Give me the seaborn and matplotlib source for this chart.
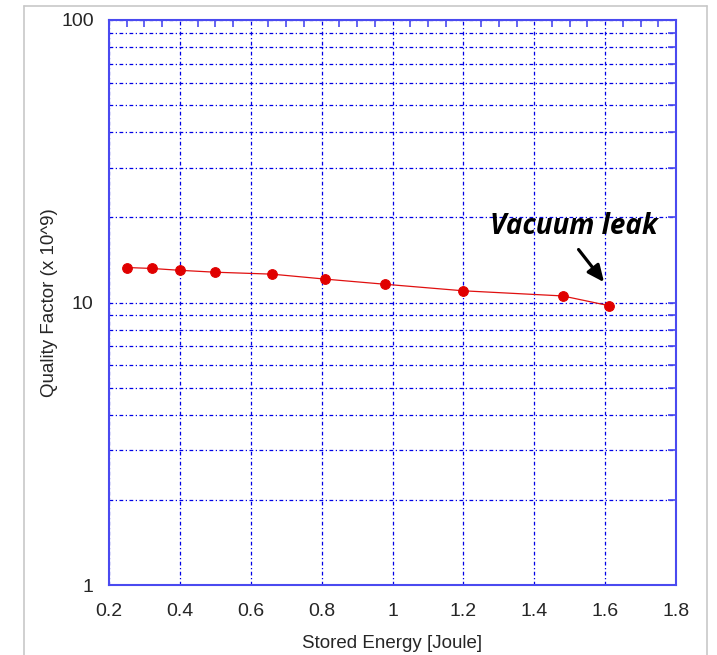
import matplotlib
matplotlib.use("Agg")
import matplotlib.pyplot as plt
from matplotlib.lines import Line2D
from matplotlib.ticker import LogLocator, MultipleLocator, FixedLocator, NullFormatter, FixedFormatter
import seaborn as sns
import pandas as pd

stored_energy = [0.25, 0.32, 0.40, 0.50, 0.66, 0.81, 0.98, 1.20, 1.48, 1.61]
quality_factor = [13.3, 13.2, 13.0, 12.8, 12.6, 12.1, 11.6, 11.0, 10.55, 9.75]
x_ticks = [0.2, 0.4, 0.6, 0.8, 1.0, 1.2, 1.4, 1.6, 1.8]
x_tick_labels = ["0.2", "0.4", "0.6", "0.8", "1", "1.2", "1.4", "1.6", "1.8"]
y_ticks = [1, 10, 100]
y_tick_labels = ["1", "10", "100"]
annotation_text = "Vacuum leak"

sns.set_style("white")
plt.rcParams['font.family'] = ['Liberation Sans', 'DejaVu Sans']

df = pd.DataFrame({"energy": stored_energy, "q": quality_factor})

fig = plt.figure(figsize=(7.17, 6.55), dpi=100)
ax = fig.add_axes([109/717, 1-585/655, (676-109)/717, (585-20)/655])

sns.lineplot(data=df, x="energy", y="q", ax=ax, color="#e01010", linewidth=0.9,
             marker="o", markersize=7, markeredgecolor="#e00000",
             markerfacecolor="#e00000")

ax.set_yscale("log")
ax.set_xlim(0.2, 1.8)
ax.set_ylim(1, 100)

blue = "#0000e6"
spine_blue = "#4a4af0"
ax.xaxis.set_major_locator(FixedLocator(x_ticks))
ax.xaxis.set_major_formatter(FixedFormatter(x_tick_labels))
ax.xaxis.set_minor_locator(MultipleLocator(0.05))
ax.yaxis.set_major_locator(FixedLocator(y_ticks))
ax.yaxis.set_major_formatter(FixedFormatter(y_tick_labels))
ax.yaxis.set_minor_locator(LogLocator(base=10, subs=range(2, 10)))
ax.yaxis.set_minor_formatter(NullFormatter())

ax.grid(True, which="major", axis="x", color=blue, linestyle=(0, (3, 2, 1, 2)), linewidth=0.9)
ax.grid(True, which="both", axis="y", color=blue, linestyle=(0, (3, 2, 1, 2)), linewidth=0.9)

ax.tick_params(axis="both", which="both", direction="in", color=spine_blue,
               top=True, right=True, width=1.2)
ax.tick_params(axis="x", which="major", length=0, labelsize=14, labelcolor="#262626", pad=13)
ax.tick_params(axis="x", which="minor", length=5)
ax.tick_params(axis="y", which="both", length=6, labelsize=14, labelcolor="#262626", pad=11)

for s in ax.spines.values():
    s.set_color(spine_blue)
    s.set_linewidth(1.5)

ax.set_xlabel("Stored Energy [Joule]", fontsize=13.5, color="#262626", labelpad=11)
ax.set_ylabel("Quality Factor (x 10^9)", fontsize=13.5, color="#262626", labelpad=2)

ax.annotate("", xy=(1.597, 11.8), xytext=(1.525, 15.4),
            arrowprops=dict(arrowstyle="-|>,head_length=1.0,head_width=0.45",
                            color="black", lw=2.3, shrinkA=0, shrinkB=0))
ax.text(1.512, 18.6, annotation_text, fontsize=20, fontweight="bold", fontstyle="italic",
        family=["Open Sans", "DejaVu Sans"], ha="center", va="center", color="black")

# light gray page frame
fig.add_artist(Line2D([24/717, 707/717], [1-6/655, 1-6/655], color="#c8c8c8", lw=1.2))
fig.add_artist(Line2D([707/717, 707/717], [0, 1-6/655], color="#c8c8c8", lw=1.2))
fig.add_artist(Line2D([24/717, 24/717], [0, 1-6/655], color="#c8c8c8", lw=1.2))

fig.savefig("out.png", dpi=100)
